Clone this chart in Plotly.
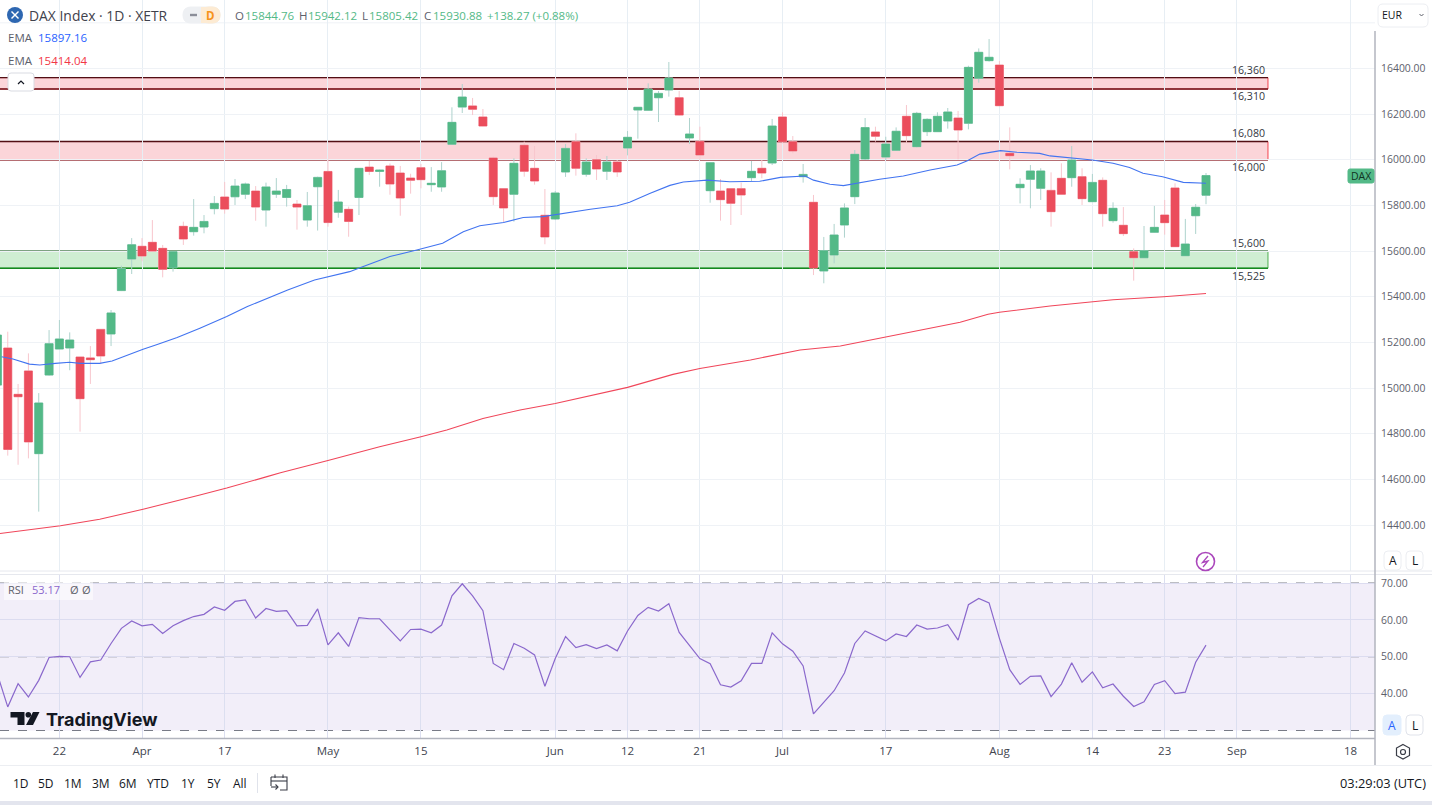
import plotly.graph_objects as go

# ---------- data ----------
bar_index = list(range(118))
opens = [15013,15175.5,14972.5,15075,14712.6,15057,15171,15175.5,15136,15132,15257,15237,15427,15565.4,15621,15638.4,15612,15527,15708.5,15685,15705.5,
 15786,15837,15838,15849,15863,15780,15849,15835,15806,15736,15882,15949,15770,15783,15835,15968,15949,15973,15942,15920,15965.5,15891,15881,16068,16231,16236,
 16187.6,16008,15873.6,15849,16063.5,15962.7,15756.8,15740.7,15946.6,16079.5,15936.4,16000.6,15949.5,15990.4,16051.7,16218,16216.8,16272,16306,16272,16095.6,16081,
 15864.8,15863.4,15873.6,15873.6,15921.8,15962.7,15986,16187.6,16079.5,15926,15813.7,15513,15583,15714.4,15838.5,16003.6,16122,16012,16041.5,16190.5,16057.6,16123.3,
 16123.3,16170,16183,16159.8,16357,16434.4,16415,16028.4,15878,15914.5,15875,15866,15918.8,15921.8,15926,15816.6,15910,15733.4,15713,15597.6,15571,15682.3,15758,15876.5,15580,15755,15844.76]
highs = [15240,15247,15018,15152,14978,15254,15298,15244,15136,15184,15257,15342,15536,15657,15657,15736,15627,15600,15729,15828,15758,
 15841,15903,15916,15900,15885,15900,15920,15890,15824,15859,15926,16002,15868,15795,15964,15995,15957,15984,15973,15939,15982,15968,15990,16230,16332,16271,
 16222.6,16014,15874.5,16006.5,16079.5,16060.5,15872,15863,16069,16116,16006.5,16021,16016.7,15999,16126,16231,16335,16301.5,16428.5,16301.5,16183,16145,
 15988,15916,15874.5,15900,15995,15999,16179,16208,16104,15981.6,15846,15662,15719,15809,16043,16183,16145,16101,16142,16240,16210,16182,
 16208,16227,16214,16412,16488,16529,16433,16142,15919,15977,15963,15945,15984.6,16060.5,15962.7,15938,15923,15813.7,15793,15612,15710,15798,15824,15897,15741,15806.4,15942.12]
lows = [15000,14704,14664,14692,14458.5,15054,15171,15078,14809,15018,15105,15184,15425,15499.6,15555,15600,15485,15510,15627,15667.6,15678,
 15761,15764,15802,15828,15733,15707,15833,15795,15694,15707,15690,15707,15746,15663,15758,15933,15882,15847,15755,15851.6,15875,15860,15860,16067,16205,16196,
 16147,15802,15726,15729,15926,15891,15630,15736,15925,15930.5,15926,15911.6,15911.6,15925,16019.6,16092.6,16215,16165.6,16276.6,16193.4,16069,15999,
 15812,15733.4,15714.4,15758,15907,15919,15977,16072,16028.4,15900,15495,15459,15546.5,15659,15806,16000,16079.5,15999,16040,16075,16055,16104,
 16122,16136.5,16002,16133.5,16338,16430,16236,15958,15809,15787.5,15824,15707,15848,15882,15802,15815,15707,15724.6,15666,15470.5,15570,15681,15672,15618,15579,15675,15805.42]
closes = [15232,14731,14962,14764,14934.6,15194.5,15215,15210.5,14953.5,15124.4,15140.5,15329,15523,15628,15578.5,15600,15520,15597.5,15653,15704,15730,
 15809,15784,15885,15894,15793,15881,15863,15870,15793,15799,15923,15725,15815,15730,15962.5,15949,15955,15894,15832.6,15910,15913,15897,15952,16164,16275,16221,
 16148,15838.5,15789,15984.6,15949.5,15907,15662,15854.6,16050,15962.7,15990.4,15959.8,15990.4,15946.6,16098.5,16230,16310,16291,16358.4,16196,16113,16021,
 15987.5,15825.4,15809.3,15845.8,15949.5,15942,16148,16079.5,16038.6,15936,15526,15602,15670.6,15789,16024,16141,16103,16069,16125,16105.8,16203.6,16177.3,
 16190.5,16209.5,16130.6,16405,16470.9,16449,16237,16018,15892.6,15951,15951,15772.8,15848.8,15999,15829.8,15901,15764,15787.4,15676.5,15571,15602,15704,15724.6,15619.5,15631,15792,15930.88]

ema_fast_x = [0.4,1.5,3.1,4.1,5.6,7,8,9.9,11.1,12.5,14.1,15.4,17.4,19.6,22.2,24.2,26.1,28.1,30.7,34.1,35.1,38,40.6,43.1,45.1,46.7,49,50.9,52.8,54.8,57.4,60,61.2,63.2,65.1,66.4,68.7,70.9,73.8,75.8,78.2,79,80.6,81.9,83.5,85.4,87.7,90.3,92.9,93.9,95.1,97.1,98.7,100.9,101.9,104.1,106,108,109.6,110.9,112.8,114.8,117]
ema_fast = [15137.5,15127,15105,15101,15108,15113,15108,15108,15118.6,15143,15170,15190,15221,15262,15313,15357,15393,15430,15473,15510,15527,15576,15605,15634,15685,15711,15725,15747,15751,15765.5,15783,15799,15814,15853,15888,15903,15911,15904,15906,15923,15929,15911,15893,15887,15900,15914.5,15929,15955,15977,15996,16025,16040,16033,16028,16017,16009,15999,15985,15966,15941,15926,15901,15897.16]
ema_slow_x = [0.25,3.6,6.1,9.9,14.1,19.6,22.2,26.1,27.4,32,37,41,43.5,47,50.6,54,61,65.4,68,72.9,76,77.7,81.6,86.1,89.6,93.2,95.9,97,101.9,106,108,112.9,117]
ema_slow = [14363,14381,14397,14425,14469,14531.5,14562,14612,14629,14683,14743,14787,14816,14867,14904,14932,15003,15060,15086,15123,15152,15167,15184,15224,15257,15288,15323,15332,15359.5,15380,15387,15400,15414.04]

rsi = [45.2,36.4,42.7,39.1,43.6,49.8,50.1,50,44.4,48.6,49.1,53.6,57.7,59.7,58.4,58.8,56.3,58.4,59.8,60.9,61.5,63.5,62.6,65,65.4,60.5,63.1,62.3,62.5,58.4,58.5,63,53.2,56.5,52.8,60.6,60.3,60.3,57.3,54.3,57.4,57.5,56.5,58.6,66.5,69.8,66.5,62.5,48.2,46.5,53.6,52.3,50.5,42,49.5,55.5,52.5,53.3,52.2,53.2,51.6,57,61.2,63.4,62.4,64.4,56.6,52.9,49.5,48.1,
 42.4,41.8,43.5,48.2,48.2,56.5,53.5,51.5,47.5,34.5,37.7,40.8,45.6,53.6,57,55.6,54.3,56.2,55.5,58.6,57.5,57.8,58.7,54.5,64.1,65.8,64.6,55,46.5,42.5,44.7,44.8,39.2,42.6,48.4,43.1,45.9,41.6,42.6,39.3,36.5,37.8,42.5,43.5,40,40.4,48.5,53.17]

tick_bars = [6,14,22,32,41,54,61,68,76,86,97,106,113,120,131]
tick_labels = ["22","Apr","17","May","15","Jun","12","21","Jul","17","Aug","14","23","Sep","18"]
price_ticks = [14400,14600,14800,15000,15200,15400,15600,15800,16000,16200,16400]
rsi_ticks = [40,50,60,70]
resistance_zones = [(16310,16360),(16000,16080)]
support_zone = (15525,15600)
zone_labels = ["16,360","16,310","16,080","16,000","15,600","15,525"]
range_buttons = ["1D","5D","1M","3M","6M","YTD","1Y","5Y","All"]

# ---------- style ----------
W, H = 1432, 805
UP, DOWN = "#53b987", "#eb4d5c"
UP_WICK, DOWN_WICK = "#aed3cd", "#f8c6cd"
GRID_V, GRID_H = "#e7eef4", "#eff2f6"
AXIS = "#b2b5be"
FONT = "Open Sans"
TXT = "#131722"
GREY = "#5d606b"
PLOT_R = 1375
PX = lambda x: x / W
PY = lambda y: 1 - y / H

fig = go.Figure()
# full range candles carry the pale wicks, the second trace paints the solid bodies
fig.add_trace(go.Candlestick(
    x=bar_index, open=opens, high=highs, low=lows, close=closes,
    increasing=dict(line=dict(color=UP_WICK, width=1), fillcolor=UP_WICK),
    decreasing=dict(line=dict(color=DOWN_WICK, width=1), fillcolor=DOWN_WICK),
    whiskerwidth=0, hoverinfo="skip", xaxis="x", yaxis="y"))
fig.add_trace(go.Candlestick(
    x=bar_index, open=opens, close=closes,
    high=[max(o, c) for o, c in zip(opens, closes)],
    low=[min(o, c) for o, c in zip(opens, closes)],
    increasing=dict(line=dict(color=UP, width=0.5), fillcolor=UP),
    decreasing=dict(line=dict(color=DOWN, width=0.5), fillcolor=DOWN),
    whiskerwidth=0, hoverinfo="skip", xaxis="x", yaxis="y"))
fig.add_trace(go.Scatter(x=ema_fast_x, y=ema_fast, mode="lines", line=dict(color="#4274f0", width=1.1), hoverinfo="skip", xaxis="x", yaxis="y"))
fig.add_trace(go.Scatter(x=ema_slow_x, y=ema_slow, mode="lines", line=dict(color="#f0465a", width=1.1), hoverinfo="skip", xaxis="x", yaxis="y"))
fig.add_trace(go.Scatter(x=bar_index, y=rsi, mode="lines", line=dict(color="#8a68cc", width=1.2), hoverinfo="skip", xaxis="x2", yaxis="y2"))

shapes = []
def line(x0, y0, x1, y1, color, width=1, dash=None, layer="above"):
    shapes.append(dict(type="line", xref="paper", yref="paper", x0=PX(x0), y0=PY(y0), x1=PX(x1), y1=PY(y1),
                       line=dict(color=color, width=width, dash=dash), layer=layer))
def rect(x0, y0, x1, y1, fill, color="rgba(0,0,0,0)", width=0, layer="above"):
    shapes.append(dict(type="rect", xref="paper", yref="paper", x0=PX(x0), y0=PY(y0), x1=PX(x1), y1=PY(y1),
                       fillcolor=fill, line=dict(color=color, width=width), layer=layer))
def round_rect(x0, y0, x1, y1, fill, color, r=4):
    X, Y = PX, PY
    p = (f"M{X(x0+r)},{Y(y0)} L{X(x1-r)},{Y(y0)} Q{X(x1)},{Y(y0)} {X(x1)},{Y(y0+r)} L{X(x1)},{Y(y1-r)} "
         f"Q{X(x1)},{Y(y1)} {X(x1-r)},{Y(y1)} L{X(x0+r)},{Y(y1)} Q{X(x0)},{Y(y1)} {X(x0)},{Y(y1-r)} "
         f"L{X(x0)},{Y(y0+r)} Q{X(x0)},{Y(y0)} {X(x0+r)},{Y(y0)} Z")
    shapes.append(dict(type="path", xref="paper", yref="paper", path=p, fillcolor=fill, line=dict(color=color, width=1), layer="above"))
def poly(pts, fill=None, color="rgba(0,0,0,0)", width=1, close=True):
    p = "M" + " L".join(f"{PX(x)},{PY(y)}" for x, y in pts) + (" Z" if close else "")
    shapes.append(dict(type="path", xref="paper", yref="paper", path=p, fillcolor=fill or "rgba(0,0,0,0)",
                       line=dict(color=color, width=width), layer="above"))
def circle(cx, cy, r, fill, color="rgba(0,0,0,0)", width=0):
    shapes.append(dict(type="circle", xref="paper", yref="paper", x0=PX(cx-r), y0=PY(cy+r), x1=PX(cx+r), y1=PY(cy-r),
                       fillcolor=fill, line=dict(color=color, width=width), layer="above"))

# price zones, drawn in data coordinates
ZONE_END = 123
def zone(lo, hi, fill, top, bottom, edge):
    shapes.append(dict(type="rect", xref="x", yref="y", x0=-5, x1=ZONE_END, y0=lo, y1=hi, fillcolor=fill,
                       line=dict(color=edge, width=1), layer="below"))
    for v, c in ((hi, top), (lo, bottom)):
        shapes.append(dict(type="line", xref="x", yref="y", x0=-5, x1=ZONE_END, y0=v, y1=v,
                           line=dict(color=c, width=1.4), layer="below"))
for lo, hi in resistance_zones:
    zone(lo, hi, "#fbd5d9", "#520f14", "#6e161d", "#f4434f")
zone(support_zone[0], support_zone[1], "#cfeed2", "#47664b", "#14891f", "#4caf50")

# top grid line of the price pane
shapes.append(dict(type="line", xref="paper", yref="y", x0=0, x1=PX(PLOT_R), y0=16600, y1=16600,
                   line=dict(color=GRID_H, width=1), layer="below"))
# RSI band and levels
shapes.append(dict(type="rect", xref="paper", yref="y2", x0=0, x1=PX(PLOT_R), y0=30, y1=70,
                   fillcolor="rgba(126,87,194,0.10)", line=dict(width=0), layer="below"))
for lv in (70, 50, 30):
    shapes.append(dict(type="line", xref="paper", yref="y2", x0=0, x1=PX(PLOT_R), y0=lv, y1=lv,
                       line=dict(color="#787b86", width=1, dash="dash"), layer="below"))

# panel rules
rect(0, 571, PLOT_R, 575, "#ffffff")
line(0, 571, 1432, 571, "#e6e8ee", 1)
line(0, 574.5, 1432, 574.5, "#e6e8ee", 1)
line(0, 738.5, PLOT_R, 738.5, "#b2b5be", 1.5)
line(0, 765.5, 1432, 765.5, "#eceef2", 1.2)
line(PLOT_R, 31, PLOT_R, 765, AXIS, 1.5)
rect(0, 801, 1432, 805, "#e3e5ee")
line(257.5, 773, 257.5, 793, "#e0e3eb", 1)

# header widgets
circle(15, 15, 8, "#2e67b1")
line(11.5, 11.5, 18.5, 18.5, "#ffffff", 1.4)
line(18.5, 11.5, 11.5, 18.5, "#ffffff", 1.4)
round_rect(183, 7, 220, 23, "#eef0f3", "#eef0f3", 8)
round_rect(201, 7, 220, 23, "#fdebd3", "#fdebd3", 8)
rect(201, 7, 206, 23, "#fdebd3")
line(190, 15, 197, 15, "#8b8e99", 2.4)
round_rect(8, 73, 34, 91, "#ffffff", "#d9dbe2", 3)
poly([(18, 84), (21, 81), (24, 84)], color=TXT, width=1.2, close=False)
round_rect(1378, 4, 1428, 27, "#ffffff", "#eceef2", 5)
poly([(1419.5, 14), (1421.5, 16), (1423.5, 14)], color=GREY, width=1, close=False)
round_rect(1348, 169, 1374, 183, UP, UP, 2)
# zap badge
circle(1205.5, 561.5, 9, "rgba(0,0,0,0)", "#ab47bc", 1.6)
poly([(1208, 556), (1202.5, 562.5), (1208, 561), (1203, 567)], color="#ab47bc", width=1.3, close=False)
# A / L buttons
round_rect(1384, 551, 1401, 570, "#ffffff", "#eceef2", 4)
round_rect(1406, 551, 1423, 570, "#ffffff", "#eceef2", 4)
round_rect(1383, 715, 1401, 735, "#e3effd", "#e3effd", 4)
round_rect(1406, 715, 1423, 735, "#ffffff", "#e0e3eb", 4)
# RSI legend backdrop
rect(4, 582, 93, 600, "rgba(255,255,255,0.55)")
# settings glyph
poly([(1403, 744.5), (1409.5, 748), (1409.5, 755.5), (1403, 759), (1396.5, 755.5), (1396.5, 748)], color="#3a3d47", width=1.2)
circle(1403, 752, 2.5, "rgba(0,0,0,0)", "#3a3d47", 1.2)
# calendar glyph
poly([(271, 777), (287, 777), (287, 790), (280, 790)], color="#3a3d47", width=1.1, close=False)
poly([(271, 786), (271, 777)], color="#3a3d47", width=1.1, close=False)
line(271, 781, 287, 781, "#3a3d47", 1.1)
line(275, 774.5, 275, 778, "#3a3d47", 1.1)
line(283, 774.5, 283, 778, "#3a3d47", 1.1)
line(271, 787, 278, 787, "#3a3d47", 1.1)
poly([(275.5, 784.5), (278, 787), (275.5, 789.5)], color="#3a3d47", width=1.1, close=False)
# wordmark glyph
poly([(10.5, 712), (24.5, 712), (24.5, 725), (17.5, 725), (17.5, 717.5), (10.5, 717.5)], fill="#131722")
circle(28.3, 714.8, 2.8, "#131722")
poly([(33, 712), (39.5, 712), (33, 725), (26, 725)], fill="#131722")

ann = []
def text(x, y, s, size=12, color=TXT, anchor="left", weight=None, family=FONT):
    ann.append(dict(text=(f"<b>{s}</b>" if weight else s), xref="paper", yref="paper", x=PX(x), y=PY(y),
                    xanchor=anchor, yanchor="middle", showarrow=False, borderpad=0, borderwidth=0,
                    font=dict(size=size, color=color, family=family)))

text(29, 15, "DAX Index · 1D · XETR", 13.9, "#3f424c")
text(210.5, 15, "D", 11.5, "#f7931a", "center", True)
ohlc = [(235, "O", 245, "15844.76"), (299, "H", 308, "15942.12"), (362, "L", 369, "15805.42"), (424, "C", 433, "15930.88")]
for lx, ls, vx, vs in ohlc:
    text(lx, 15, ls, 11.5, GREY)
    text(vx, 15, vs, 11.5, UP)
text(487, 15, "+138.27 (+0.88%)", 11.5, UP)
text(8, 37, "EMA", 11.5, GREY)
text(38, 37, "15897.16", 11.5, "#2962ff")
text(8, 60, "EMA", 11.5, GREY)
text(38, 60, "15414.04", 11.5, "#f23645")
text(1381.5, 15, "EUR", 10.5, TXT)
text(1361, 176, "DAX", 10.5, "#10331f", "center")
for y, s in zip([70, 96, 133, 167, 243, 276], zone_labels):
    text(1265, y, s, 10.6, "#333640", "right")
text(8, 589.5, "RSI", 11, GREY)
text(32, 589.5, "53.17", 11, "#8a68cc")
text(70, 589.5, "Ø", 11, GREY)
text(82, 589.5, "Ø", 11, GREY)
text(46, 719, "TradingView", 18, "#131722", weight=True, family="Inter")
text(1392.5, 560.5, "A", 12, TXT, "center")
text(1414.5, 560.5, "L", 12, TXT, "center")
text(1392, 725, "A", 12, "#2962ff", "center")
text(1414.5, 725, "L", 12, TXT, "center")
for x, s in zip([20.5, 46, 73, 101, 128, 158, 188, 214, 240], range_buttons):
    text(x, 783, s, 12, TXT, "center")
text(1426, 783, "03:29:03 (UTC)", 12.8, TXT, "right")

D_MAIN = [1 - 571 / H, 1]
D_RSI = [1 - 738 / H, 1 - 575 / H]
X_RANGE = [0.25, 133.36]
fig.update_layout(
    width=W, height=H, autosize=False, margin=dict(l=0, r=0, t=0, b=0),
    paper_bgcolor="#ffffff", plot_bgcolor="#ffffff", showlegend=False,
    font=dict(family=FONT, size=12, color=TXT), boxgap=0.2, boxgroupgap=0.03, boxmode="overlay",
    shapes=shapes, annotations=ann, hovermode=False,
    xaxis=dict(domain=[0, PX(PLOT_R)], range=X_RANGE, anchor="y", tickmode="array", tickvals=tick_bars, ticktext=tick_labels,
               showticklabels=False, showgrid=True, gridcolor=GRID_V, gridwidth=1, zeroline=False, rangeslider=dict(visible=False), ticks=""),
    xaxis2=dict(domain=[0, PX(PLOT_R)], range=X_RANGE, anchor="y2", matches="x", tickmode="array", tickvals=tick_bars, ticktext=tick_labels,
                showticklabels=True, showgrid=True, gridcolor="#dcdff0", gridwidth=1, zeroline=False, ticks="outside", ticklen=2,
                tickcolor="rgba(0,0,0,0)", tickfont=dict(size=11.5, color="#42454f", family=FONT)),
    yaxis=dict(domain=D_MAIN, range=[14198.5, 16700.1], anchor="x", side="right", tickmode="array", tickvals=price_ticks,
               tickformat=".2f", showgrid=True, gridcolor=GRID_H, gridwidth=1, zeroline=False, ticks="outside", ticklen=3,
               tickcolor="rgba(0,0,0,0)", tickfont=dict(size=10.4, color="#5d606b", family=FONT), automargin=False),
    yaxis2=dict(domain=D_RSI, range=[27.97, 72.17], anchor="x2", side="right", tickmode="array", tickvals=rsi_ticks,
                tickformat=".2f", showgrid=True, gridcolor="#dcdcf0", gridwidth=1, zeroline=False, ticks="outside", ticklen=3,
                tickcolor="rgba(0,0,0,0)", tickfont=dict(size=10.4, color="#5d606b", family=FONT), automargin=False),
)
fig.write_html("out.html", config={"displayModeBar": False, "staticPlot": True},
               post_script="document.body.style.margin='0';document.body.style.overflow='hidden';")
